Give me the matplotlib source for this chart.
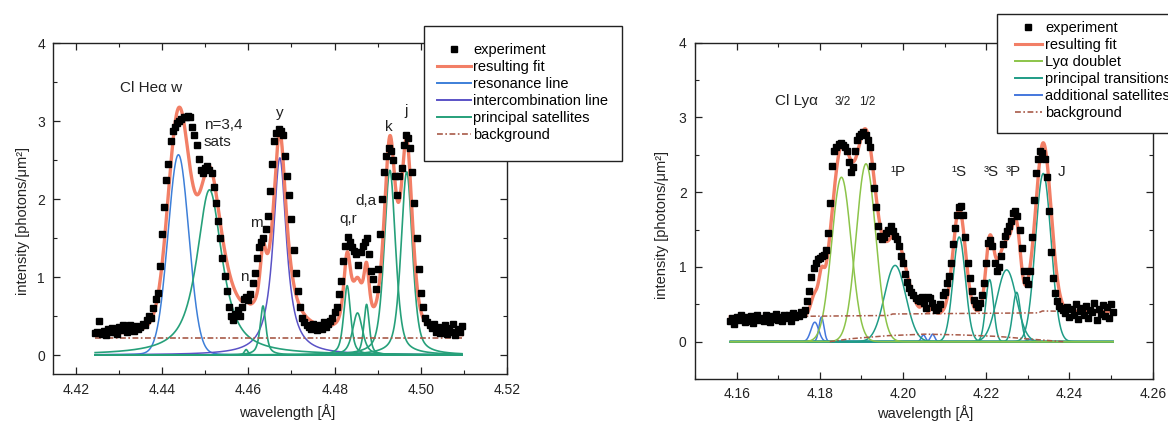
import numpy as np
import matplotlib
matplotlib.use('Agg')
import matplotlib.pyplot as plt
from matplotlib.ticker import MultipleLocator, FormatStrFormatter
from matplotlib.lines import Line2D
from matplotlib.patches import Rectangle

plt.rcParams['font.family'] = ['Liberation Sans', 'DejaVu Sans']

# ---------------- Cl He-alpha panel ----------------
he_wl = [
    4.4245, 4.4250, 4.4255, 4.4260, 4.4265, 4.4270, 4.4275, 4.4280, 4.4285, 4.4290,
    4.4295, 4.4300, 4.4305, 4.4310, 4.4315, 4.4320, 4.4325, 4.4330, 4.4335, 4.4340,
    4.4345, 4.4350, 4.4355, 4.4360, 4.4365, 4.4370, 4.4375, 4.4380, 4.4385, 4.4390,
    4.4395, 4.4400, 4.4405, 4.4410, 4.4415, 4.4420, 4.4425, 4.4430, 4.4435, 4.4440,
    4.4445, 4.4450, 4.4455, 4.4460, 4.4465, 4.4470, 4.4475, 4.4480, 4.4485, 4.4490,
    4.4495, 4.4500, 4.4505, 4.4510, 4.4515, 4.4520, 4.4525, 4.4530, 4.4535, 4.4540,
    4.4545, 4.4550, 4.4555, 4.4560, 4.4565, 4.4570, 4.4575, 4.4580, 4.4585, 4.4590,
    4.4595, 4.4600, 4.4605, 4.4610, 4.4615, 4.4620, 4.4625, 4.4630, 4.4635, 4.4640,
    4.4645, 4.4650, 4.4655, 4.4660, 4.4665, 4.4670, 4.4675, 4.4680, 4.4685, 4.4690,
    4.4695, 4.4700, 4.4705, 4.4710, 4.4715, 4.4720, 4.4725, 4.4730, 4.4735, 4.4740,
    4.4745, 4.4750, 4.4755, 4.4760, 4.4765, 4.4770, 4.4775, 4.4780, 4.4785, 4.4790,
    4.4795, 4.4800, 4.4805, 4.4810, 4.4815, 4.4820, 4.4825, 4.4830, 4.4835, 4.4840,
    4.4845, 4.4850, 4.4855, 4.4860, 4.4865, 4.4870, 4.4875, 4.4880, 4.4885, 4.4890,
    4.4895, 4.4900, 4.4905, 4.4910, 4.4915, 4.4920, 4.4925, 4.4930, 4.4935, 4.4940,
    4.4945, 4.4950, 4.4955, 4.4960, 4.4965, 4.4970, 4.4975, 4.4980, 4.4985, 4.4990,
    4.4995, 4.5000, 4.5005, 4.5010, 4.5015, 4.5020, 4.5025, 4.5030, 4.5035, 4.5040,
    4.5045, 4.5050, 4.5055, 4.5060, 4.5065, 4.5070, 4.5075, 4.5080, 4.5085, 4.5090,
    4.5095]
he_int = [
    0.28, 0.30, 0.44, 0.27, 0.31, 0.26, 0.33, 0.29, 0.35, 0.30,
    0.27, 0.36, 0.32, 0.38, 0.34, 0.29, 0.39, 0.35, 0.31, 0.37,
    0.33, 0.36, 0.40, 0.38, 0.45, 0.50, 0.48, 0.60, 0.72, 0.80,
    1.14, 1.55, 1.90, 2.25, 2.45, 2.75, 2.88, 2.93, 2.98, 3.00,
    3.03, 3.05, 3.06, 3.07, 3.05, 2.93, 2.82, 2.70, 2.52, 2.38,
    2.33, 2.40, 2.42, 2.38, 2.33, 2.15, 1.95, 1.72, 1.50, 1.25,
    1.02, 0.82, 0.62, 0.50, 0.45, 0.52, 0.58, 0.50, 0.62, 0.72,
    0.75, 0.70, 0.78, 0.92, 1.05, 1.25, 1.38, 1.45, 1.50, 1.62,
    1.78, 2.10, 2.45, 2.75, 2.85, 2.90, 2.88, 2.82, 2.55, 2.30,
    2.05, 1.75, 1.35, 1.05, 0.82, 0.62, 0.48, 0.42, 0.38, 0.36,
    0.33, 0.40, 0.35, 0.32, 0.38, 0.34, 0.42, 0.36, 0.40, 0.44,
    0.48, 0.55, 0.62, 0.78, 0.95, 1.20, 1.40, 1.52, 1.45, 1.38,
    1.33, 1.30, 1.15, 1.32, 1.40, 1.45, 1.50, 1.30, 1.08, 0.98,
    0.85, 1.10, 1.55, 2.00, 2.35, 2.55, 2.65, 2.62, 2.50, 2.30,
    2.05, 2.30, 2.40, 2.70, 2.82, 2.78, 2.65, 2.35, 1.95, 1.50,
    1.10, 0.80, 0.62, 0.48, 0.42, 0.38, 0.35, 0.40, 0.30, 0.36,
    0.28, 0.33, 0.38, 0.27, 0.35, 0.30, 0.40, 0.26, 0.34, 0.29,
    0.37]

# fit components: centre [A], peak height, FWHM [A], lorentz fraction
he_kind = ['res', 'ic', 'sat', 'sat', 'sat', 'sat', 'sat', 'sat', 'sat', 'sat']
he_center = [4.4438, 4.4673, 4.4510, 4.4595, 4.4634, 4.4829, 4.4853, 4.4874, 4.4928, 4.4967]
he_height = [2.57, 2.53, 2.12, 0.07, 0.63, 0.89, 0.54, 0.65, 2.37, 2.35]
he_fwhm = [0.0057, 0.0037, 0.0070, 0.0010, 0.0016, 0.0019, 0.0027, 0.0015, 0.0031, 0.0031]
he_eta = [0.05, 0.95, 0.85, 0.5, 0.7, 0.6, 0.6, 0.6, 0.5, 0.5]
he_bg = 0.22

he_labels = ['n=3,4\nsats', 'y', 'm', 'n', 'q,r', 'd,a', 'k', 'j']
he_label_x = [4.4497, 4.4673, 4.4619, 4.4590, 4.4831, 4.4872, 4.4925, 4.4966]
he_label_y = [2.84, 3.10, 1.69, 1.00, 1.74, 1.97, 2.93, 3.13]

# ---------------- Cl Ly-alpha panel ----------------
ly_wl = [
    4.1585, 4.1590, 4.1595, 4.1600, 4.1605, 4.1610, 4.1615, 4.1620, 4.1625, 4.1630,
    4.1635, 4.1640, 4.1645, 4.1650, 4.1655, 4.1660, 4.1665, 4.1670, 4.1675, 4.1680,
    4.1685, 4.1690, 4.1695, 4.1700, 4.1705, 4.1710, 4.1715, 4.1720, 4.1725, 4.1730,
    4.1735, 4.1740, 4.1745, 4.1750, 4.1755, 4.1760, 4.1765, 4.1770, 4.1775, 4.1780,
    4.1785, 4.1790, 4.1795, 4.1800, 4.1805, 4.1810, 4.1815, 4.1820, 4.1825, 4.1830,
    4.1835, 4.1840, 4.1845, 4.1850, 4.1855, 4.1860, 4.1865, 4.1870, 4.1875, 4.1880,
    4.1885, 4.1890, 4.1895, 4.1900, 4.1905, 4.1910, 4.1915, 4.1920, 4.1925, 4.1930,
    4.1935, 4.1940, 4.1945, 4.1950, 4.1955, 4.1960, 4.1965, 4.1970, 4.1975, 4.1980,
    4.1985, 4.1990, 4.1995, 4.2000, 4.2005, 4.2010, 4.2015, 4.2020, 4.2025, 4.2030,
    4.2035, 4.2040, 4.2045, 4.2050, 4.2055, 4.2060, 4.2065, 4.2070, 4.2075, 4.2080,
    4.2085, 4.2090, 4.2095, 4.2100, 4.2105, 4.2110, 4.2115, 4.2120, 4.2125, 4.2130,
    4.2135, 4.2140, 4.2145, 4.2150, 4.2155, 4.2160, 4.2165, 4.2170, 4.2175, 4.2180,
    4.2185, 4.2190, 4.2195, 4.2200, 4.2205, 4.2210, 4.2215, 4.2220, 4.2225, 4.2230,
    4.2235, 4.2240, 4.2245, 4.2250, 4.2255, 4.2260, 4.2265, 4.2270, 4.2275, 4.2280,
    4.2285, 4.2290, 4.2295, 4.2300, 4.2305, 4.2310, 4.2315, 4.2320, 4.2325, 4.2330,
    4.2335, 4.2340, 4.2345, 4.2350, 4.2355, 4.2360, 4.2365, 4.2370, 4.2375, 4.2380,
    4.2385, 4.2390, 4.2395, 4.2400, 4.2405, 4.2410, 4.2415, 4.2420, 4.2425, 4.2430,
    4.2435, 4.2440, 4.2445, 4.2450, 4.2455, 4.2460, 4.2465, 4.2470, 4.2475, 4.2480,
    4.2485, 4.2490, 4.2495, 4.2500, 4.2505]
ly_int = [
    0.27, 0.31, 0.24, 0.33, 0.29, 0.35, 0.30, 0.26, 0.33, 0.28,
    0.34, 0.25, 0.30, 0.36, 0.29, 0.32, 0.27, 0.35, 0.31, 0.26,
    0.34, 0.30, 0.37, 0.29, 0.33, 0.27, 0.36, 0.31, 0.35, 0.28,
    0.38, 0.33, 0.36, 0.34, 0.40, 0.37, 0.42, 0.55, 0.68, 0.86,
    0.98, 1.05, 1.10, 1.12, 1.14, 1.16, 1.22, 1.45, 1.85, 2.35,
    2.55, 2.60, 2.64, 2.66, 2.63, 2.60, 2.55, 2.40, 2.27, 2.33,
    2.55, 2.70, 2.75, 2.78, 2.80, 2.76, 2.70, 2.60, 2.35, 2.05,
    1.80, 1.55, 1.42, 1.38, 1.40, 1.45, 1.50, 1.55, 1.48, 1.42,
    1.38, 1.28, 1.15, 1.05, 0.90, 0.80, 0.72, 0.66, 0.62, 0.58,
    0.56, 0.55, 0.60, 0.52, 0.45, 0.60, 0.58, 0.52, 0.46, 0.42,
    0.45, 0.50, 0.62, 0.66, 0.78, 0.88, 1.05, 1.30, 1.52, 1.70,
    1.80, 1.82, 1.70, 1.40, 1.05, 0.85, 0.68, 0.56, 0.50, 0.47,
    0.52, 0.62, 0.78, 1.05, 1.32, 1.36, 1.28, 1.05, 0.95, 1.00,
    1.15, 1.30, 1.42, 1.48, 1.55, 1.62, 1.72, 1.75, 1.68, 1.50,
    1.25, 0.95, 0.82, 0.77, 0.95, 1.40, 1.90, 2.25, 2.45, 2.55,
    2.52, 2.45, 2.20, 1.75, 1.20, 0.85, 0.65, 0.55, 0.48, 0.45,
    0.42, 0.38, 0.47, 0.33, 0.44, 0.36, 0.50, 0.30, 0.41, 0.45,
    0.35, 0.48, 0.32, 0.43, 0.39, 0.52, 0.29, 0.44, 0.37, 0.49,
    0.34, 0.46, 0.31, 0.50, 0.40]

# Gaussian components: centre [A], peak height, FWHM [A]
ly_kind = ['sat', 'sat', 'sat', 'sat', 'sat',
           'pr', 'pr', 'pr', 'pr', 'pr', 'pr', 'dbl', 'dbl']
ly_center = [4.1788, 4.1804, 4.2049, 4.2071, 4.2304,
             4.1981, 4.2135, 4.2208, 4.2249, 4.2273, 4.2337, 4.1852, 4.1911]
ly_height = [0.26, 0.33, 0.09, 0.10, 0.03,
             1.02, 1.40, 0.83, 0.96, 0.66, 2.25, 2.20, 2.38]
ly_fwhm = [0.0022, 0.0014, 0.0012, 0.0012, 0.0015,
           0.0060, 0.0035, 0.0022, 0.0055, 0.0022, 0.0044, 0.0055, 0.0055]

# background lines
ly_bg_x = [4.1585, 4.1965, 4.1975, 4.2325, 4.2335, 4.2505]
ly_bg_y = [0.33, 0.35, 0.37, 0.385, 0.41, 0.40]
ly_bg2_x = [4.1824, 4.1876, 4.1964, 4.2052, 4.2139, 4.2227, 4.2315, 4.2385]
ly_bg2_y = [0.0, 0.04, 0.08, 0.10, 0.09, 0.07, 0.03, 0.0]

ly_labels = ['\u00b9P', '\u00b9S', '\u00b3S', '\u00b3P', 'J']
ly_label_x = [4.1987, 4.2135, 4.2212, 4.2266, 4.2381]
ly_label_y = [2.27, 2.27, 2.27, 2.27, 2.27]

# colours
c_fit = '#f27f66'
c_res = '#3d7fd8'
c_ic = '#5a52c6'
c_sat = '#26a07a'
c_dbl = '#8cc44a'
c_pr = '#1f9c86'
c_add = '#4477dd'
c_bg = '#a85a48'
bg_ls = (0, (3.5, 1.5, 1, 1.5))
txt = '#222222'


def profile(x, c, h, w, eta):
    d = (x - c) / w
    lor = 1.0 / (1.0 + 4.0 * d ** 2)
    gau = np.exp(-4.0 * np.log(2) * d ** 2)
    return h * (eta * lor + (1 - eta) * gau)


def style_axes(ax, xlim, ylim):
    ax.set_xlim(*xlim)
    ax.set_ylim(*ylim)
    ax.xaxis.set_major_locator(MultipleLocator(0.02))
    ax.xaxis.set_minor_locator(MultipleLocator(0.01))
    ax.yaxis.set_major_locator(MultipleLocator(1))
    ax.yaxis.set_minor_locator(MultipleLocator(0.5))
    ax.xaxis.set_major_formatter(FormatStrFormatter('%.2f'))
    ax.yaxis.set_major_formatter(FormatStrFormatter('%d'))
    ax.tick_params(which='both', direction='in', top=True, right=True,
                   labelsize=10, colors=txt, pad=6)
    ax.tick_params(which='major', length=5, width=0.9)
    ax.tick_params(which='minor', length=3, width=0.8)
    for s in ax.spines.values():
        s.set_color(txt)
        s.set_linewidth(1.0)
    ax.set_xlabel('wavelength [\u00c5]', fontsize=10.5, color=txt)
    ax.set_ylabel('intensity [photons/\u03bcm\u00b2]', fontsize=10.5, color=txt)


def add_legend(handles, labels, box, text_left, first_row, hlen):
    # box = (left, top, right, bottom) in pixels
    W, H = 1168, 426
    l, t, r, b = box
    fig.add_artist(Rectangle((l / W, 1 - b / H), (r - l) / W, (b - t) / H,
                             transform=fig.transFigure, facecolor='white',
                             edgecolor=txt, lw=1.0, zorder=4))
    leg = fig.legend(handles, labels, loc='upper left',
                     bbox_to_anchor=(text_left / W, 1 - first_row / H),
                     bbox_transform=fig.transFigure, fontsize=10.5, frameon=False,
                     handlelength=hlen, handletextpad=0.2, labelspacing=0.21,
                     borderpad=0, borderaxespad=0)
    leg.set_zorder(5)
    return leg


fig = plt.figure(figsize=(11.68, 4.26), dpi=100)
ax1 = fig.add_axes([0.0456, 0.1209, 0.3887, 0.7775])
ax2 = fig.add_axes([0.5950, 0.1103, 0.3919, 0.7895])

# ----- left panel -----
xs = np.linspace(he_wl[0], he_wl[-1], 1500)
fit = np.full_like(xs, he_bg)
for kind, c, h, w, e in zip(he_kind, he_center, he_height, he_fwhm, he_eta):
    comp = profile(xs, c, h, w, e)
    fit += comp
    col = {'res': c_res, 'ic': c_ic, 'sat': c_sat}[kind]
    ax1.plot(xs, comp, color=col, lw=1.2 if kind == 'sat' else 1.1, zorder=2)
ax1.plot([he_wl[0], he_wl[-1]], [he_bg, he_bg], color=c_bg, lw=1.2, ls=bg_ls, zorder=2.5)
ax1.plot(xs, fit, color=c_fit, lw=2.4, zorder=3)
ax1.plot(he_wl, he_int, ls='none', marker='s', ms=4.3, color='black', zorder=4)

ax1.text(4.4302, 3.42, 'Cl He\u03b1 w', fontsize=11, va='center', ha='left', color=txt)
for t, x, y in zip(he_labels, he_label_x, he_label_y):
    ha = 'left' if t.startswith('n=') else 'center'
    ax1.text(x, y, t, fontsize=11, ha=ha, va='center', color=txt, linespacing=1.3)

style_axes(ax1, (4.4148, 4.52), (-0.25, 4))
ax1.yaxis.set_label_coords(-0.051, 0.462)
ax1.xaxis.set_label_coords(0.515, -0.089)

h1 = [Line2D([], [], ls='none', marker='s', ms=4.3, color='black'),
      Line2D([], [], color=c_fit, lw=2.2),
      Line2D([], [], color=c_res, lw=1.4),
      Line2D([], [], color=c_ic, lw=1.4),
      Line2D([], [], color=c_sat, lw=1.4),
      Line2D([], [], color=c_bg, lw=1.2, ls=bg_ls)]
l1 = ['experiment', 'resulting fit', 'resonance line', 'intercombination line',
      'principal satellites', 'background']
add_legend(h1, l1, (424, 26, 622, 161), 437, 43, 2.3)

# ----- right panel -----
xs2 = np.linspace(ly_wl[0], ly_wl[-1], 1500)
fit2 = np.interp(xs2, ly_bg_x, ly_bg_y)
for kind, c, h, w in zip(ly_kind, ly_center, ly_height, ly_fwhm):
    comp = profile(xs2, c, h, w, 0.0)
    fit2 += comp
    col = {'dbl': c_dbl, 'pr': c_pr, 'sat': c_add}[kind]
    ax2.plot(xs2, comp, color=col, lw=1.1, zorder=2)
ax2.plot(ly_bg_x, ly_bg_y, color=c_bg, lw=1.1, ls=bg_ls, zorder=2.5)
ax2.plot(ly_bg2_x, ly_bg2_y, color=c_bg, lw=1.1, ls=bg_ls, zorder=2.5)
ax2.plot(xs2, fit2, color=c_fit, lw=2.4, zorder=3)
ax2.plot(ly_wl, ly_int, ls='none', marker='s', ms=4.3, color='black', zorder=4)

ax2.text(4.1692, 3.22, 'Cl Ly\u03b1', fontsize=11, va='center', ha='left', color=txt)
ax2.text(4.1856, 3.20, '3/2', fontsize=8.5, va='center', ha='center', color=txt)
ax2.text(4.1914, 3.20, '1/2', fontsize=8.5, va='center', ha='center', color=txt)
for t, x, y in zip(ly_labels, ly_label_x, ly_label_y):
    ax2.text(x, y, t, fontsize=11, ha='center', va='center', color=txt)

style_axes(ax2, (4.15, 4.26), (-0.5, 4))
ax2.yaxis.set_label_coords(-0.057, 0.458)
ax2.xaxis.set_label_coords(0.502, -0.077)

h2 = [Line2D([], [], ls='none', marker='s', ms=4.3, color='black'),
      Line2D([], [], color=c_fit, lw=2.2),
      Line2D([], [], color=c_dbl, lw=1.4),
      Line2D([], [], color=c_pr, lw=1.4),
      Line2D([], [], color=c_add, lw=1.4),
      Line2D([], [], color=c_bg, lw=1.2, ls=bg_ls)]
l2 = ['experiment', 'resulting fit', 'Ly\u03b1 doublet', 'principal transitions',
      'additional satellites', 'background']
add_legend(h2, l2, (997, 14, 1185, 133), 1015, 21, 1.85)

fig.savefig('out.png', dpi=100)
